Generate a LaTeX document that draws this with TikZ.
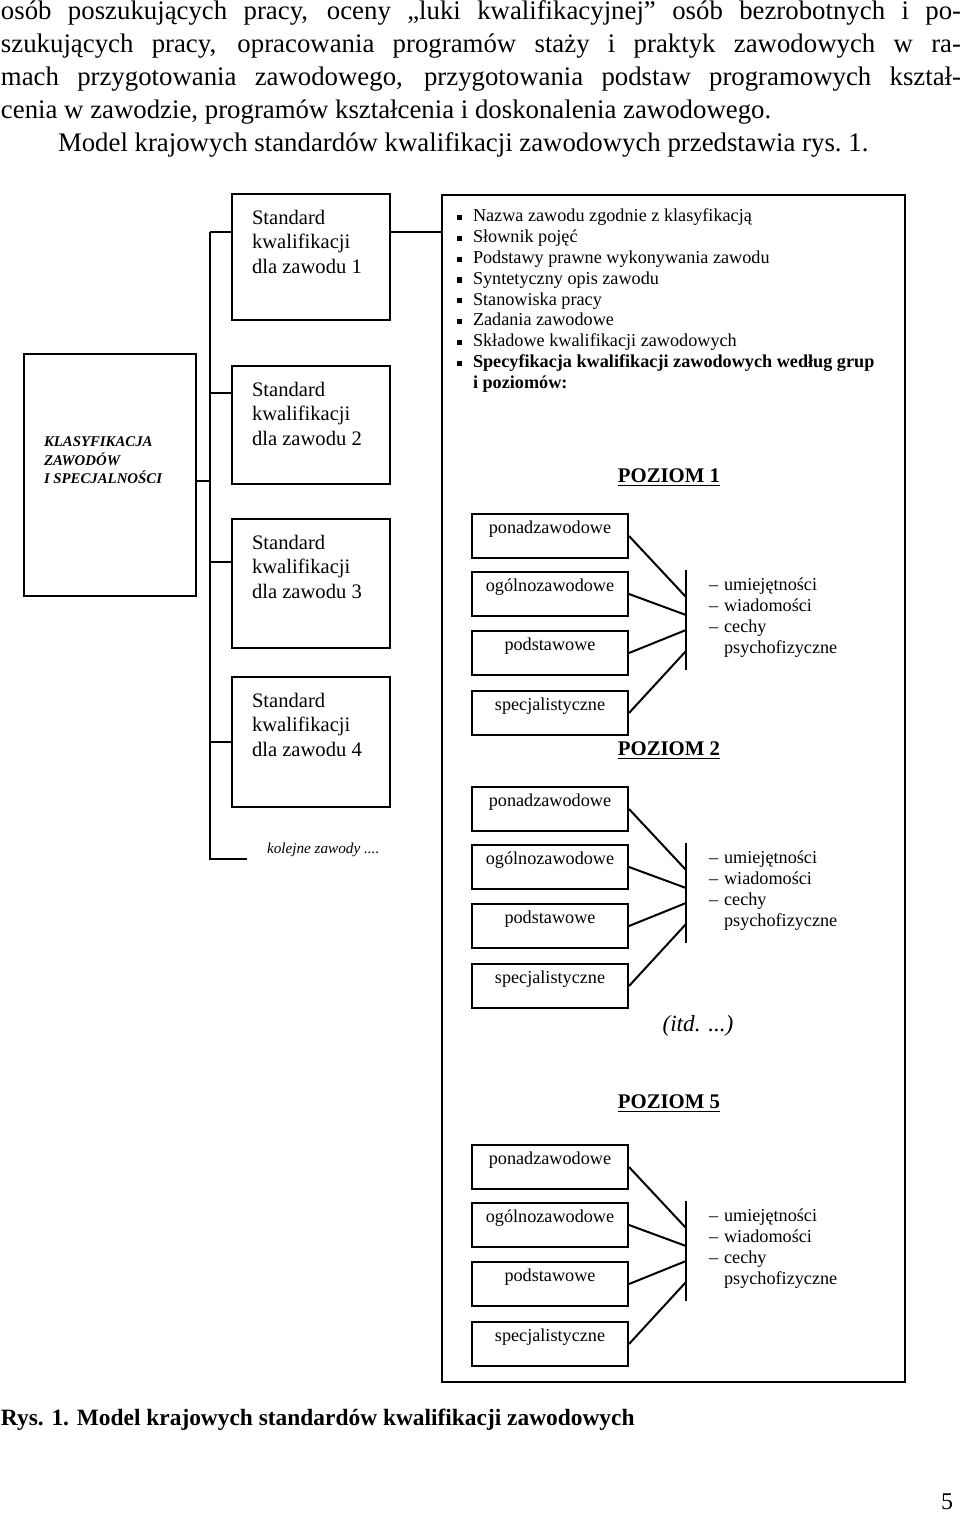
\documentclass[tikz,border=0pt]{standalone}
\usepackage{fontspec}
\setmainfont{Liberation Serif}

\newcommand{\sqbullet}{\hspace*{2pt}\rule[0.9pt]{2.6pt}{2.6pt}}

\begin{document}
\begin{tikzpicture}[x=0.5pt, y=-0.5pt, line width=1pt,
  stdbox/.style={draw, anchor=north west, inner xsep=10pt, inner ysep=8pt, font=\fontsize{10.3}{12.25}\selectfont},
  lvlbox/.style={draw, anchor=north, minimum width=78pt, inner xsep=0pt, inner ysep=3pt, text height=6.75pt, text depth=9.25pt, font=\fontsize{9.1}{10.5}\selectfont},
  lvltitle/.style={anchor=base, inner sep=0pt, font=\fontsize{10.4}{12}\selectfont\bfseries},
  traits/.style={anchor=north west, inner sep=0pt, font=\fontsize{9.1}{10.5}\selectfont}]
  \useasboundingbox (0,0) rectangle (960,1515);
  \node[anchor=north west, inner sep=0pt, text width=480pt, align=justify, font=\fontsize{13.4}{16.5}\selectfont] (intro) at (0,0) {\tolerance=9999 \hbadness=10000 \noindent osób poszukujących pracy, oceny „luki kwalifikacyjnej” osób bezrobotnych i po-\linebreak szukujących pracy, opracowania programów staży i praktyk zawodowych w ra-\linebreak mach przygotowania zawodowego, przygotowania podstaw programowych kształ-\linebreak cenia w zawodzie, programów kształcenia i doskonalenia zawodowego.\par\noindent\hspace*{28.5pt}Model krajowych standardów kwalifikacji zawodowych przedstawia rys.~1.};
  \node[draw, anchor=north west, inner xsep=10pt, inner ysep=0pt, font=\fontsize{7.4}{9.25}\selectfont\bfseries\itshape] (klas) at (23,353) {\parbox[t][121pt][t]{66pt}{\vspace*{41.5pt}KLASYFIKACJA\\ZAWODÓW\\I SPECJALNOŚCI}};
  \node[stdbox] (std1) at (231,193) {\parbox[t][47pt][t]{59pt}{Standard\\kwalifikacji\\dla zawodu 1}};
  \node[stdbox] (std2) at (231,365) {\parbox[t][43pt][t]{59pt}{Standard\\kwalifikacji\\dla zawodu 2}};
  \node[stdbox] (std3) at (231,518) {\parbox[t][48.5pt][t]{59pt}{Standard\\kwalifikacji\\dla zawodu 3}};
  \node[stdbox] (std4) at (231,676) {\parbox[t][49pt][t]{59pt}{Standard\\kwalifikacji\\dla zawodu 4}};
  \node[anchor=base west, inner sep=0pt, font=\fontsize{7.6}{9}\selectfont\itshape] (kolejne) at (266,853) {kolejne zawody ....};
  \coordinate (j1) at (210,232);
  \coordinate (j2) at (210,393);
  \coordinate (jk) at (210,481);
  \coordinate (j3) at (210,562);
  \coordinate (j4) at (210,742);
  \coordinate (jbot) at (210,859);
  \coordinate (jend) at (247,859);
  \draw (j1) -- (jbot) -- (jend);
  \draw (jk -| klas.east) -- (jk);
  \draw (j1) -- (j1 -| std1.west);
  \draw (j2) -- (j2 -| std2.west);
  \draw (j3) -- (j3 -| std3.west);
  \draw (j4) -- (j4 -| std4.west);
  \node[draw, anchor=north west, inner sep=0pt, minimum width=231.5pt, minimum height=593.5pt] (frame) at (441,194) {};
  \draw (j1 -| std1.east) -- (j1 -| frame.west);
  \node[anchor=north west, inner sep=0pt, font=\fontsize{9.1}{10.4}\selectfont] (elements) at (452,206.4) {\begin{tabular}{@{}l@{\hspace{5.4pt}}l@{}}
    \sqbullet & Nazwa zawodu zgodnie z klasyfikacją\\
    \sqbullet & Słownik pojęć\\
    \sqbullet & Podstawy prawne wykonywania zawodu\\
    \sqbullet & Syntetyczny opis zawodu\\
    \sqbullet & Stanowiska pracy\\
    \sqbullet & Zadania zawodowe\\
    \sqbullet & Składowe kwalifikacji zawodowych\\
    \sqbullet & \textbf{Specyfikacja kwalifikacji zawodowych według grup}\\
    & \textbf{i poziomów:}
  \end{tabular}};
  \node[lvltitle] (title1) at (669,482) {\underline{POZIOM 1}};
  \node[lvlbox] (pon1) at (550,513) {ponadzawodowe};
  \node[lvlbox] (ogol1) at (550,571) {ogólnozawodowe};
  \node[lvlbox] (pods1) at (550,630) {podstawowe};
  \node[lvlbox] (spec1) at (550,690) {specjalistyczne};
  \coordinate (bar1top) at (686,570);
  \coordinate (bar1bot) at (686,670);
  \coordinate (bar1a) at (686,597);
  \coordinate (bar1b) at (686,615);
  \coordinate (bar1c) at (686,630);
  \coordinate (bar1d) at (686,651);
  \draw (bar1top) -- (bar1bot);
  \draw (pon1.east) -- (bar1a);
  \draw (ogol1.east) -- (bar1b);
  \draw (pods1.east) -- (bar1c);
  \draw (spec1.east) -- (bar1d);
  \node[traits] (traits1) at (708,574.3) {\begin{tabular}{@{}l@{\hspace{3pt}}l@{}}– & umiejętności\\– & wiadomości\\– & cechy\\ & psychofizyczne\end{tabular}};
  \node[lvltitle] (title2) at (669,755) {\underline{POZIOM 2}};
  \node[lvlbox] (pon2) at (550,786) {ponadzawodowe};
  \node[lvlbox] (ogol2) at (550,844) {ogólnozawodowe};
  \node[lvlbox] (pods2) at (550,903) {podstawowe};
  \node[lvlbox] (spec2) at (550,963) {specjalistyczne};
  \coordinate (bar2top) at (686,843);
  \coordinate (bar2bot) at (686,943);
  \coordinate (bar2a) at (686,870);
  \coordinate (bar2b) at (686,888);
  \coordinate (bar2c) at (686,903);
  \coordinate (bar2d) at (686,924);
  \draw (bar2top) -- (bar2bot);
  \draw (pon2.east) -- (bar2a);
  \draw (ogol2.east) -- (bar2b);
  \draw (pods2.east) -- (bar2c);
  \draw (spec2.east) -- (bar2d);
  \node[traits] (traits2) at (708,847.3) {\begin{tabular}{@{}l@{\hspace{3pt}}l@{}}– & umiejętności\\– & wiadomości\\– & cechy\\ & psychofizyczne\end{tabular}};
  \node[anchor=base, inner sep=0pt, font=\fontsize{11.6}{14}\selectfont\itshape] (itd) at (698,1031) {(itd. ...)};
  \node[lvltitle] (title5) at (669,1108) {\underline{POZIOM 5}};
  \node[lvlbox] (pon5) at (550,1144) {ponadzawodowe};
  \node[lvlbox] (ogol5) at (550,1202) {ogólnozawodowe};
  \node[lvlbox] (pods5) at (550,1261) {podstawowe};
  \node[lvlbox] (spec5) at (550,1321) {specjalistyczne};
  \coordinate (bar5top) at (686,1201);
  \coordinate (bar5bot) at (686,1301);
  \coordinate (bar5a) at (686,1228);
  \coordinate (bar5b) at (686,1246);
  \coordinate (bar5c) at (686,1261);
  \coordinate (bar5d) at (686,1282);
  \draw (bar5top) -- (bar5bot);
  \draw (pon5.east) -- (bar5a);
  \draw (ogol5.east) -- (bar5b);
  \draw (pods5.east) -- (bar5c);
  \draw (spec5.east) -- (bar5d);
  \node[traits] (traits5) at (708,1205.3) {\begin{tabular}{@{}l@{\hspace{3pt}}l@{}}– & umiejętności\\– & wiadomości\\– & cechy\\ & psychofizyczne\end{tabular}};
  \node[anchor=base west, inner sep=0pt, font=\fontsize{11.7}{14}\selectfont\bfseries] (caption) at (0,1425) {Rys. 1. Model krajowych standardów kwalifikacji zawodowych};
  \node[anchor=base east, inner sep=0pt, font=\fontsize{12}{14}\selectfont] (pagenum) at (954,1509) {5};
\end{tikzpicture}
\end{document}
